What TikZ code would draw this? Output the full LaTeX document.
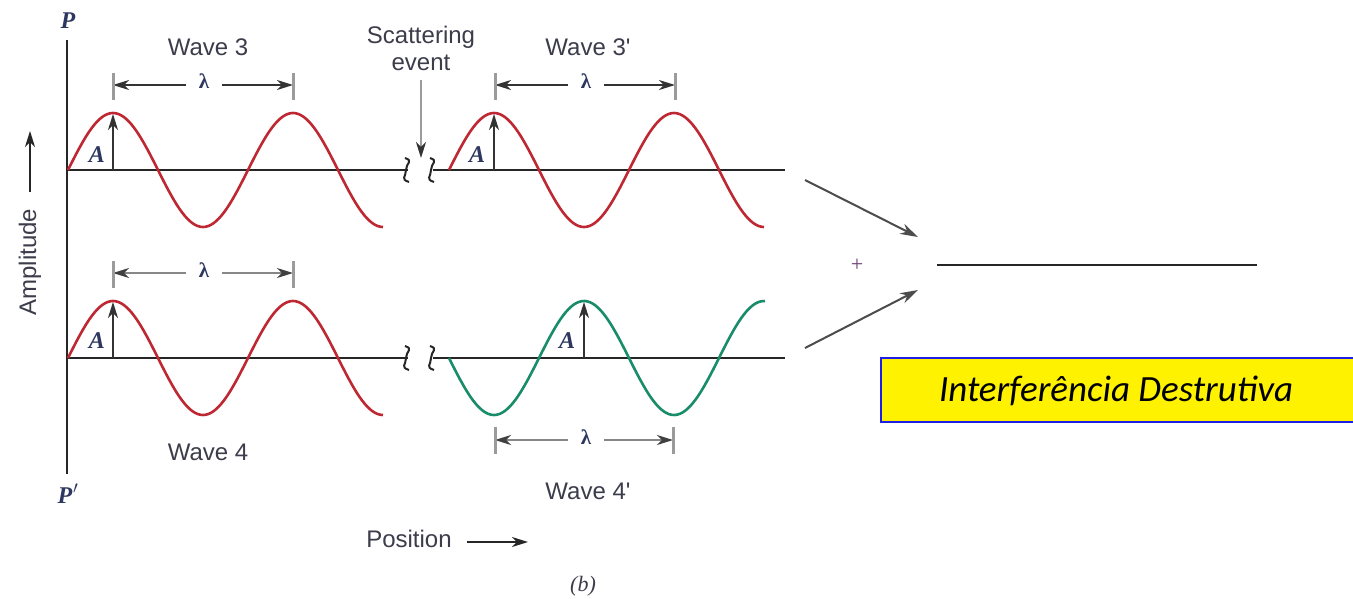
\documentclass[tikz,border=0pt]{standalone}
\usepackage{fontspec}
\setmainfont{Liberation Serif}
\newfontfamily\lsans{Liberation Sans}
\newfontfamily\calib{Carlito}
\usetikzlibrary{arrows.meta}
\definecolor{wavered}{RGB}{190,40,50}
\definecolor{wavegreen}{RGB}{25,140,105}
\definecolor{txt}{RGB}{60,60,75}
\definecolor{sym}{RGB}{45,55,95}
\definecolor{tickgray}{RGB}{155,155,155}
\definecolor{dimgray}{RGB}{135,135,135}
\definecolor{boxblue}{RGB}{30,30,230}
\definecolor{plusc}{RGB}{110,60,120}
\begin{document}
\begin{tikzpicture}[x=1pt,y=-1pt,
  lbl/.style={font=\lsans\fontsize{24}{27}\selectfont, text=txt, inner sep=0pt},
  sym/.style={font=\bfseries\itshape\fontsize{24}{26}\selectfont, text=sym, inner sep=0pt},
  lam/.style={font=\bfseries\fontsize{21}{23}\selectfont, text=sym, inner sep=0pt, minimum width=36pt},
  axisline/.style={line width=2.2pt, black!85},
  redwave/.style={line width=2.6pt, wavered},
  greenwave/.style={line width=2.6pt, wavegreen},
  tipA/.style={-{Stealth[length=16pt,width=10pt,inset=5pt]}},
  dimdark/.style={line width=1.8pt, black!80, tipA},
  dimlight/.style={line width=1.8pt, dimgray, -{Stealth[length=16pt,width=10pt,inset=5pt,black!75]}},
  tickmark/.style={line width=3pt, tickgray},
  amp/.style={line width=1.8pt, black!80, tipA},
  squiggle/.style={line width=2pt, black!85},
  bigarrow/.style={line width=2pt, black!70, -{Stealth[length=18pt,width=11pt,inset=6pt]}},
]
\fill[white] (0,0) rectangle (1353,598);
\useasboundingbox (0,0) rectangle (1353,598);

% vertical axis
\node[sym] (P) at (68,28) [anchor=base] {P};
\node[sym] (Pp) at (68,503) [anchor=base] {P\kern1pt$'$};
\coordinate (axtop) at (67,40);
\coordinate (axbot) at (67,474);
\draw[axisline] (axtop) -- (axbot);

% Amplitude label
\node[lbl, rotate=90, anchor=base] (ampl) at (36,262) {Amplitude};
\coordinate (aa1) at (30,192);
\coordinate (aa2) at (30,131);
\draw[line width=1.8pt, black!85, tipA] (aa1) -- (aa2);

% baselines
\coordinate (u0) at (67,170);  \coordinate (u1) at (408,170);
\coordinate (u2) at (433,170); \coordinate (u3) at (785,170);
\coordinate (d0) at (67,358);  \coordinate (d1) at (408,358);
\coordinate (d2) at (433,358); \coordinate (d3) at (785,358);
\draw[axisline] (u0) -- (u1);
\draw[axisline] (u2) -- (u3);
\draw[axisline] (d0) -- (d1);
\draw[axisline] (d2) -- (d3);
\foreach \c in {u1,u2,d1,d2}{
  \draw[squiggle] (\c) ++(-3,-12) .. controls ++(9,3) and ++(0,-7) .. ++(1,12)
                  .. controls ++(0,7) and ++(-9,-3) .. ++(3,12);
}

% waves
\draw[redwave] plot[domain=68:383, samples=120] (\x, {170 - 57*sin((\x-68)*2)});
\draw[redwave] plot[domain=449:764, samples=120] (\x, {170 - 57*sin((\x-449)*2)});
\draw[redwave] plot[domain=68:383, samples=120] (\x, {358 - 57*sin((\x-68)*2)});
\draw[greenwave] plot[domain=449:765, samples=120] (\x, {358 + 57*sin((\x-449)*2)});

% amplitude arrows
\coordinate (ab1) at (113,170); \coordinate (ap1) at (113,114);
\coordinate (ab2) at (494,170); \coordinate (ap2) at (494,114);
\coordinate (ab3) at (113,358); \coordinate (ap3) at (113,302);
\coordinate (ab4) at (584,358); \coordinate (ap4) at (584,302);
\draw[amp] (ab1) -- (ap1);
\draw[amp] (ab2) -- (ap2);
\draw[amp] (ab3) -- (ap3);
\draw[amp] (ab4) -- (ap4);
\node[sym, anchor=base] (A1) at (97,162) {A};
\node[sym, anchor=base] (A2) at (477,162) {A};
\node[sym, anchor=base] (A3) at (97,348) {A};
\node[sym, anchor=base] (A4) at (567,348) {A};

% wavelength dimensions
\node[lam] (L1) at (204,81) {λ};
\coordinate (L1a) at (113,85); \coordinate (L1b) at (293,85);
\draw[dimdark] (L1.west |- L1a) -- (L1a);
\draw[dimdark] (L1.east |- L1b) -- (L1b);
\draw[tickmark] (L1a) ++(0,-12) -- ++(0,27);
\draw[tickmark] (L1b) ++(0,-12) -- ++(0,27);

\node[lam] (L2) at (586,81) {λ};
\coordinate (L2a) at (495,85); \coordinate (L2b) at (675,85);
\draw[dimdark] (L2.west |- L2a) -- (L2a);
\draw[dimdark] (L2.east |- L2b) -- (L2b);
\draw[tickmark] (L2a) ++(0,-12) -- ++(0,27);
\draw[tickmark] (L2b) ++(0,-12) -- ++(0,27);

\node[lam] (L3) at (204,270) {λ};
\coordinate (L3a) at (113,273); \coordinate (L3b) at (293,273);
\draw[dimlight] (L3.west |- L3a) -- (L3a);
\draw[dimlight] (L3.east |- L3b) -- (L3b);
\draw[tickmark] (L3a) ++(0,-12) -- ++(0,27);
\draw[tickmark] (L3b) ++(0,-12) -- ++(0,27);

\node[lam] (L4) at (586,437) {λ};
\coordinate (L4a) at (495,440); \coordinate (L4b) at (673,440);
\draw[dimlight] (L4.west |- L4a) -- (L4a);
\draw[dimlight] (L4.east |- L4b) -- (L4b);
\draw[tickmark] (L4a) ++(0,-13) -- ++(0,27);
\draw[tickmark] (L4b) ++(0,-13) -- ++(0,27);

% labels
\node[lbl, anchor=base] (w3) at (208,55) {Wave 3};
\node[lbl, anchor=base] (w3p) at (588,55) {Wave 3'};
\node[lbl, anchor=base] (w4) at (208,460) {Wave 4};
\node[lbl, anchor=base] (w4p) at (588,499) {Wave 4'};
\node[lbl, align=center, anchor=north] (scat) at (421,25.5) {Scattering\\event};
\coordinate (scend) at (421,158);
\draw[line width=2pt, tickgray, -{Stealth[length=16pt,width=10pt,inset=5pt,black!80]}, shorten <=9pt] (scat.south) -- (scend);

\node[lbl, anchor=base] (pos) at (409,547) {Position};
\coordinate (pa1) at (467,542); \coordinate (pa2) at (528,542);
\draw[line width=1.8pt, black!85, tipA] (pa1) -- (pa2);
\node[font=\itshape\fontsize{22}{24}\selectfont, text=txt, inner sep=0pt, anchor=base] (b) at (583,591) {(b)};

% right side
\coordinate (r1s) at (805,180); \coordinate (r1e) at (918,237);
\coordinate (r2s) at (805,348); \coordinate (r2e) at (918,290);
\draw[bigarrow] (r1s) -- (r1e);
\draw[bigarrow] (r2s) -- (r2e);
\node[font=\fontsize{22}{22}\selectfont, text=plusc, inner sep=0pt] (plus) at (857,265) {+};
\coordinate (res1) at (937,265); \coordinate (res2) at (1257,265);
\draw[line width=2.2pt, black!85] (res1) -- (res2);

\node[draw=boxblue, fill=yellow, line width=1.8pt, minimum width=473pt, minimum height=64pt, inner sep=0pt, anchor=north west] (box) at (880,357) {};
\node[font=\calib\itshape\fontsize{37}{40}\selectfont, inner sep=0pt, anchor=base] (boxt) at (1116,401) {Interferência Destrutiva};
\end{tikzpicture}
\end{document}
